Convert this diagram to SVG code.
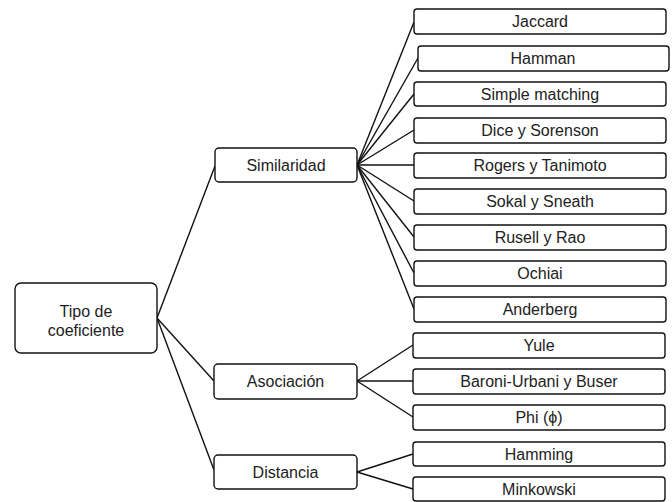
<svg xmlns="http://www.w3.org/2000/svg" width="672" height="502" viewBox="0 0 672 502">
<style>
.b{fill:#fff;stroke:#111;stroke-width:1.4}
.t{font-family:"Liberation Sans",Arial,sans-serif;font-size:16px;fill:#222;text-anchor:middle}
.c line{stroke:#111;stroke-width:1.4}
</style>
<rect width="672" height="502" fill="#fff"/>
<g class="c" id="connectors">
<line x1="157" y1="318" x2="215" y2="166"/>
<line x1="157" y1="318" x2="214" y2="381"/>
<line x1="157" y1="318" x2="214" y2="470"/>
<line x1="357" y1="165" x2="414" y2="22"/>
<line x1="357" y1="165" x2="418" y2="58"/>
<line x1="357" y1="165" x2="414" y2="94"/>
<line x1="357" y1="165" x2="414" y2="130"/>
<line x1="357" y1="165" x2="414" y2="165"/>
<line x1="357" y1="165" x2="414" y2="201"/>
<line x1="357" y1="165" x2="414" y2="237"/>
<line x1="357" y1="165" x2="414" y2="273"/>
<line x1="357" y1="165" x2="414" y2="309"/>
<line x1="357" y1="381" x2="413" y2="345"/>
<line x1="357" y1="381" x2="413" y2="381"/>
<line x1="357" y1="381" x2="413" y2="417"/>
<line x1="357" y1="472" x2="413" y2="454"/>
<line x1="357" y1="472" x2="413" y2="489"/>
</g>
<g id="root"><rect class="b" x="15" y="283" width="142" height="70" rx="6"/><text class="t" x="86" y="317">Tipo de</text><text class="t" x="86" y="336">coeficiente</text></g>
<g id="similaridad"><rect class="b" x="215" y="148" width="142" height="34" rx="4"/><text class="t" x="286" y="171">Similaridad</text></g>
<g id="asociacion"><rect class="b" x="214" y="364" width="143" height="35" rx="4"/><text class="t" x="285.5" y="387">Asociación</text></g>
<g id="distancia"><rect class="b" x="214" y="455" width="143" height="34" rx="4"/><text class="t" x="285.5" y="478">Distancia</text></g>
<g id="jaccard"><rect class="b" x="414" y="9" width="252" height="25" rx="3"/><text class="t" x="540" y="27">Jaccard</text></g>
<g id="hamman"><rect class="b" x="418" y="46" width="251" height="25" rx="3"/><text class="t" x="543" y="64">Hamman</text></g>
<g id="simple"><rect class="b" x="414" y="82" width="252" height="24" rx="3"/><text class="t" x="540" y="100">Simple matching</text></g>
<g id="dice"><rect class="b" x="414" y="118" width="252" height="25" rx="3"/><text class="t" x="540" y="136">Dice y Sorenson</text></g>
<g id="rogers"><rect class="b" x="414" y="153" width="252" height="25" rx="3"/><text class="t" x="540" y="171">Rogers y Tanimoto</text></g>
<g id="sokal"><rect class="b" x="414" y="189" width="252" height="25" rx="3"/><text class="t" x="540" y="207">Sokal y Sneath</text></g>
<g id="rusell"><rect class="b" x="414" y="225" width="252" height="25" rx="3"/><text class="t" x="540" y="243">Rusell y Rao</text></g>
<g id="ochiai"><rect class="b" x="414" y="261" width="252" height="25" rx="3"/><text class="t" x="540" y="279">Ochiai</text></g>
<g id="anderberg"><rect class="b" x="414" y="297" width="252" height="25" rx="3"/><text class="t" x="540" y="315">Anderberg</text></g>
<g id="yule"><rect class="b" x="413" y="333" width="252" height="25" rx="3"/><text class="t" x="539" y="351">Yule</text></g>
<g id="baroni"><rect class="b" x="413" y="369" width="252" height="25" rx="3"/><text class="t" x="539" y="387">Baroni-Urbani y Buser</text></g>
<g id="phi"><rect class="b" x="413" y="405" width="252" height="25" rx="3"/><text class="t" x="539" y="423">Phi (ϕ)</text></g>
<g id="hamming"><rect class="b" x="413" y="442" width="252" height="24" rx="3"/><text class="t" x="539" y="460">Hamming</text></g>
<g id="minkowski"><rect class="b" x="413" y="477" width="252" height="24" rx="3"/><text class="t" x="539" y="495">Minkowski</text></g>
</svg>
